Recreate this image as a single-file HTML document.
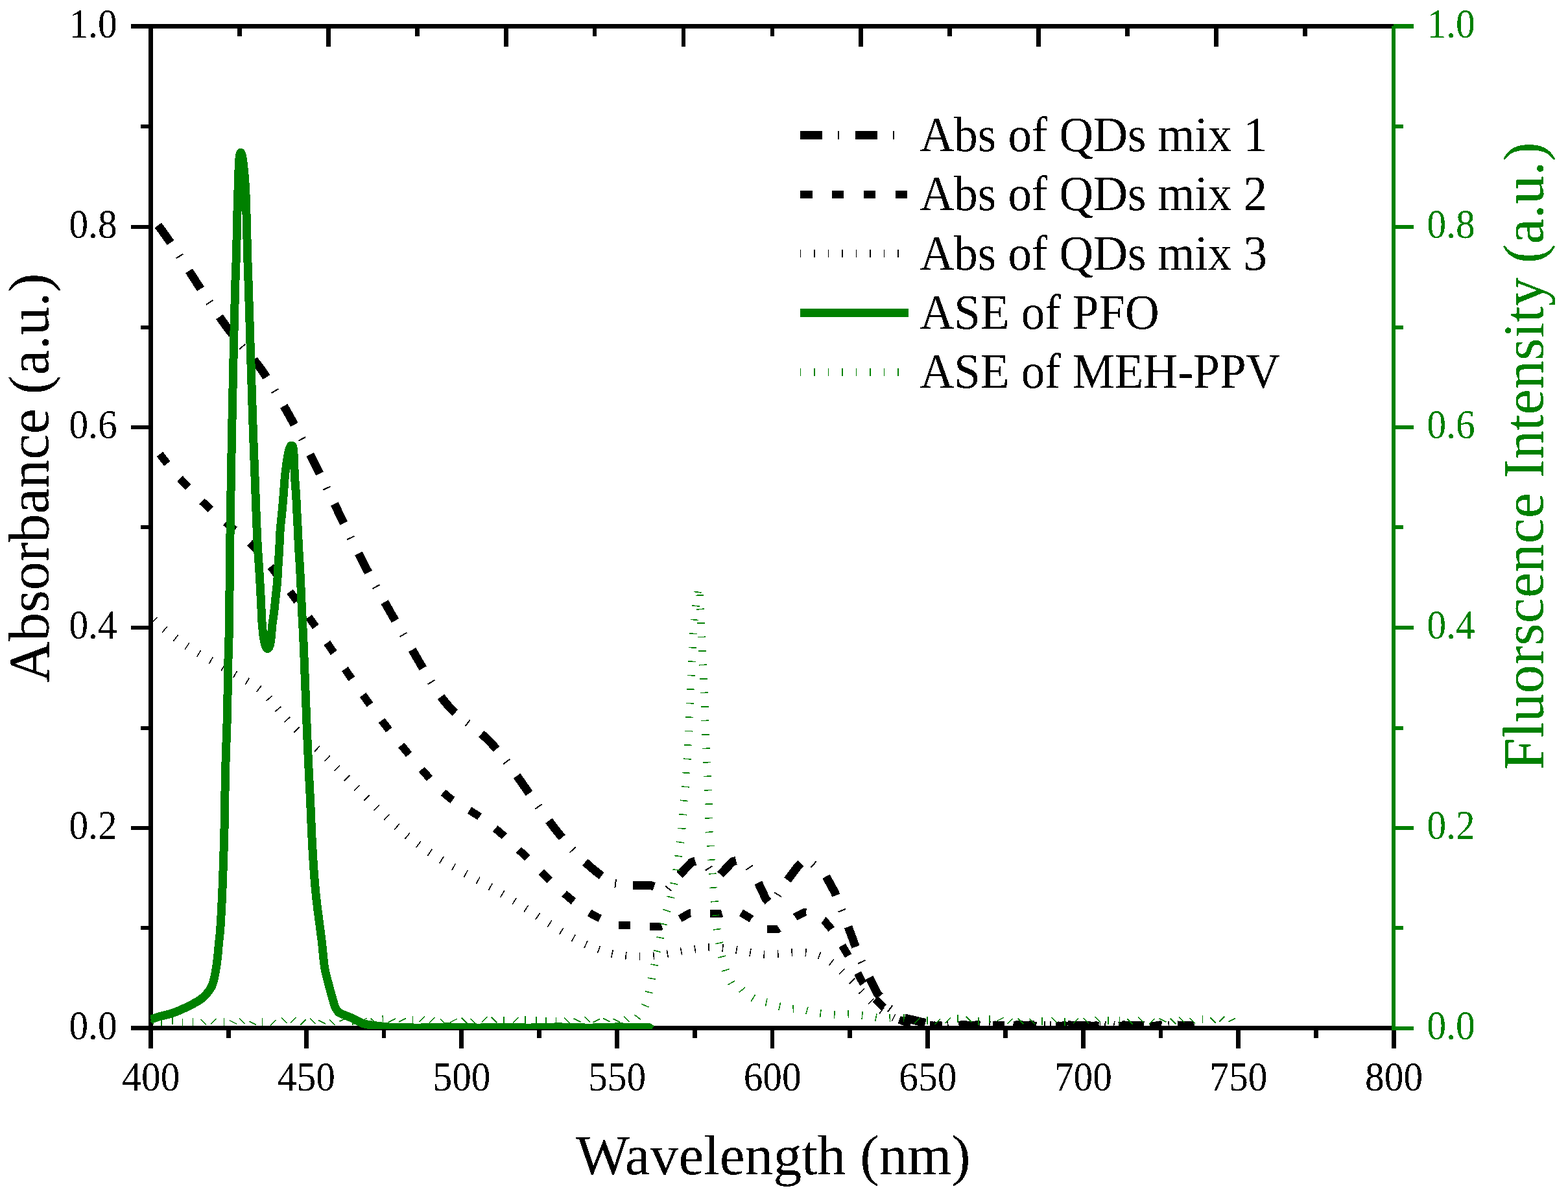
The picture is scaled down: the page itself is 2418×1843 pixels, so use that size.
<!DOCTYPE html>
<html><head><meta charset="utf-8"><title>Absorbance and ASE spectra</title>
<style>
html,body{margin:0;padding:0;background:#fff;}
body{width:2418px;height:1843px;overflow:hidden;}
svg{display:block;}
</style></head>
<body>
<svg width="2418" height="1843" viewBox="0 0 2418 1843">
<defs><filter id="bin" color-interpolation-filters="sRGB"><feComponentTransfer><feFuncA type="discrete" tableValues="0 1"/></feComponentTransfer></filter>
<clipPath id="pc"><rect x="232" y="40" width="1918" height="1547"/></clipPath></defs>
<rect width="2418" height="1843" fill="#fff"/>
<g shape-rendering="crispEdges">
<rect x="229" y="37" width="7" height="1580" fill="#000"/>
<rect x="202" y="1582" width="1944" height="7" fill="#000"/>
<rect x="202" y="37" width="1947" height="7" fill="#000"/>
<rect x="2146" y="40" width="6" height="1549" fill="#008000"/>
<rect x="2149" y="37" width="31" height="7" fill="#008000"/>
<rect x="202" y="1583" width="27" height="6" fill="#000"/>
<rect x="217" y="1428" width="12" height="6" fill="#000"/>
<rect x="202" y="1274" width="27" height="6" fill="#000"/>
<rect x="217" y="1120" width="12" height="6" fill="#000"/>
<rect x="202" y="965" width="27" height="6" fill="#000"/>
<rect x="217" y="810" width="12" height="6" fill="#000"/>
<rect x="202" y="656" width="27" height="6" fill="#000"/>
<rect x="217" y="502" width="12" height="6" fill="#000"/>
<rect x="202" y="347" width="27" height="6" fill="#000"/>
<rect x="217" y="192" width="12" height="6" fill="#000"/>
<rect x="202" y="38" width="27" height="6" fill="#000"/>
<rect x="2152" y="1583" width="28" height="6" fill="#008000"/>
<rect x="2152" y="1428" width="12" height="6" fill="#008000"/>
<rect x="2152" y="1274" width="28" height="6" fill="#008000"/>
<rect x="2152" y="1120" width="12" height="6" fill="#008000"/>
<rect x="2152" y="965" width="28" height="6" fill="#008000"/>
<rect x="2152" y="810" width="12" height="6" fill="#008000"/>
<rect x="2152" y="656" width="28" height="6" fill="#008000"/>
<rect x="2152" y="502" width="12" height="6" fill="#008000"/>
<rect x="2152" y="347" width="28" height="6" fill="#008000"/>
<rect x="2152" y="192" width="12" height="6" fill="#008000"/>
<rect x="2152" y="38" width="28" height="6" fill="#008000"/>
<rect x="229.2" y="1589" width="6.7" height="28" fill="#000"/>
<rect x="349" y="1589" width="6.7" height="12" fill="#000"/>
<rect x="468.8" y="1589" width="6.7" height="28" fill="#000"/>
<rect x="588.6" y="1589" width="6.7" height="12" fill="#000"/>
<rect x="708.4" y="1589" width="6.7" height="28" fill="#000"/>
<rect x="828.2" y="1589" width="6.7" height="12" fill="#000"/>
<rect x="948" y="1589" width="6.7" height="28" fill="#000"/>
<rect x="1067.8" y="1589" width="6.7" height="12" fill="#000"/>
<rect x="1187.6" y="1589" width="6.7" height="28" fill="#000"/>
<rect x="1307.4" y="1589" width="6.7" height="12" fill="#000"/>
<rect x="1427.2" y="1589" width="6.7" height="28" fill="#000"/>
<rect x="1547" y="1589" width="6.7" height="12" fill="#000"/>
<rect x="1666.8" y="1589" width="6.7" height="28" fill="#000"/>
<rect x="1786.6" y="1589" width="6.7" height="12" fill="#000"/>
<rect x="1906.4" y="1589" width="6.7" height="28" fill="#000"/>
<rect x="2026.2" y="1589" width="6.7" height="12" fill="#000"/>
<rect x="2146" y="1589" width="6.7" height="28" fill="#000"/>
<rect x="366.01" y="44" width="6.8" height="12" fill="#000"/>
<rect x="502.93" y="44" width="6.8" height="28" fill="#000"/>
<rect x="639.84" y="44" width="6.8" height="12" fill="#000"/>
<rect x="776.76" y="44" width="6.8" height="28" fill="#000"/>
<rect x="913.67" y="44" width="6.8" height="12" fill="#000"/>
<rect x="1050.59" y="44" width="6.8" height="28" fill="#000"/>
<rect x="1187.5" y="44" width="6.8" height="12" fill="#000"/>
<rect x="1324.41" y="44" width="6.8" height="28" fill="#000"/>
<rect x="1461.33" y="44" width="6.8" height="12" fill="#000"/>
<rect x="1598.24" y="44" width="6.8" height="28" fill="#000"/>
<rect x="1735.16" y="44" width="6.8" height="12" fill="#000"/>
<rect x="1872.07" y="44" width="6.8" height="28" fill="#000"/>
<rect x="2008.99" y="44" width="6.8" height="12" fill="#000"/>
</g>
<g fill="none" stroke-linejoin="round" shape-rendering="crispEdges" clip-path="url(#pc)">
<path d="M243.75 347.51L245.75 350.16L247.75 352.85L249.75 355.58L251.75 358.33L253.75 361.12L255.75 363.93L257.76 366.78L259.76 369.65L261.76 372.54L263.76 375.46L265.76 378.4L267.76 381.36L269.76 384.35L271.76 387.35L273.76 390.36L275.76 393.4L277.76 396.45L279.76 399.51L281.76 402.58L283.76 405.66L285.77 408.75L287.77 411.85L289.77 414.96L291.77 418.06L293.77 421.18L295.77 424.29L297.77 427.41L299.77 430.52L301.77 433.63L303.77 436.74L305.77 439.85L307.77 442.94L309.77 446.03L311.77 449.11L313.78 452.18L315.78 455.24L317.78 458.29L319.78 461.32L321.78 464.33L323.78 467.33L325.78 470.31L327.78 473.27L329.78 476.22L331.78 479.14L333.78 482.04L335.78 484.92L337.78 487.78L339.78 490.61L341.79 493.42L343.79 496.21L345.79 498.97L347.79 501.71L349.79 504.42L351.79 507.11L353.79 509.77L355.79 512.4L357.79 515L359.79 517.57L361.79 520.11L363.79 522.62L365.79 525.11L367.8 527.55L369.8 529.97L371.8 532.35L373.8 534.7L375.8 537.02L377.8 539.32L379.8 541.6L381.8 543.88L383.8 546.17L385.8 548.46L387.8 550.77L389.8 553.12L391.8 555.5L393.8 557.93L395.81 560.41L397.81 562.95L399.81 565.56L401.81 568.26L403.81 571.04L405.81 573.91L407.81 576.86L409.81 579.87L411.81 582.96L413.81 586.1L415.81 589.29L417.81 592.52L419.81 595.78L421.81 599.07L423.82 602.39L425.82 605.73L427.82 609.09L429.82 612.48L431.82 615.89L433.82 619.32L435.82 622.77L437.82 626.25L439.82 629.75L441.82 633.27L443.82 636.81L445.82 640.38L447.82 643.96L449.83 647.57L451.83 651.2L453.83 654.85L455.83 658.52L457.83 662.21L459.83 665.92L461.83 669.65L463.83 673.4L465.83 677.17L467.83 680.96L469.83 684.77L471.83 688.6L473.83 692.45L475.83 696.31L477.84 700.2L479.84 704.1L481.84 708.02L483.84 711.96L485.84 715.92L487.84 719.9L489.84 723.89L491.84 727.9L493.84 731.93L495.84 735.97L497.84 740.03L499.84 744.11L501.84 748.2L503.84 752.31L505.85 756.44L507.85 760.57L509.85 764.72L511.85 768.88L513.85 773.05L515.85 777.22L517.85 781.4L519.85 785.58L521.85 789.76L523.85 793.94L525.85 798.12L527.85 802.3L529.85 806.47L531.85 810.64L533.86 814.79L535.86 818.94L537.86 823.07L539.86 827.19L541.86 831.3L543.86 835.39L545.86 839.46L547.86 843.5L549.86 847.53L551.86 851.54L553.86 855.51L555.86 859.47L557.86 863.39L559.87 867.28L561.87 871.15L563.87 874.99L565.87 878.81L567.87 882.6L569.87 886.36L571.87 890.1L573.87 893.82L575.87 897.52L577.87 901.19L579.87 904.85L581.87 908.49L583.87 912.11L585.87 915.71L587.88 919.29L589.88 922.86L591.88 926.42L593.88 929.96L595.88 933.48L597.88 937L599.88 940.5L601.88 944L603.88 947.48L605.88 950.95L607.88 954.42L609.88 957.88L611.88 961.33L613.88 964.78L615.89 968.22L617.89 971.66L619.89 975.09L621.89 978.52L623.89 981.96L625.89 985.39L627.89 988.82L629.89 992.25L631.89 995.69L633.89 999.13L635.89 1002.57L637.89 1006.02L639.89 1009.47L641.9 1012.93L643.9 1016.39L645.9 1019.85L647.9 1023.3L649.9 1026.74L651.9 1030.16L653.9 1033.57L655.9 1036.96L657.9 1040.31L659.9 1043.64L661.9 1046.93L663.9 1050.18L665.9 1053.39L667.9 1056.55L669.91 1059.66L671.91 1062.71L673.91 1065.7L675.91 1068.63L677.91 1071.48L679.91 1074.27L681.91 1076.98L683.91 1079.6L685.91 1082.14L687.91 1084.6L689.91 1086.95L691.91 1089.22L693.91 1091.41L695.91 1093.51L697.92 1095.54L699.92 1097.49L701.92 1099.39L703.92 1101.22L705.92 1103L707.92 1104.73L709.92 1106.41L711.92 1108.06L713.92 1109.67L715.92 1111.25L717.92 1112.81L719.92 1114.35L721.92 1115.87L723.92 1117.39L725.93 1118.9L727.93 1120.42L729.93 1121.94L731.93 1123.47L733.93 1125.02L735.93 1126.59L737.93 1128.19L739.93 1129.82L741.93 1131.49L743.93 1133.2L745.93 1134.95L747.93 1136.76L749.93 1138.63L751.94 1140.56L753.94 1142.55L755.94 1144.6L757.94 1146.72L759.94 1148.88L761.94 1151.11L763.94 1153.38L765.94 1155.7L767.94 1158.07L769.94 1160.49L771.94 1162.95L773.94 1165.45L775.94 1167.98L777.94 1170.56L779.95 1173.17L781.95 1175.81L783.95 1178.47L785.95 1181.17L787.95 1183.89L789.95 1186.64L791.95 1189.4L793.95 1192.19L795.95 1194.99L797.95 1197.8L799.95 1200.62L801.95 1203.46L803.95 1206.3L805.95 1209.15L807.96 1212L809.96 1214.86L811.96 1217.71L813.96 1220.57L815.96 1223.43L817.96 1226.28L819.96 1229.13L821.96 1231.98L823.96 1234.82L825.96 1237.65L827.96 1240.47L829.96 1243.28L831.96 1246.08L833.97 1248.87L835.97 1251.65L837.97 1254.41L839.97 1257.15L841.97 1259.87L843.97 1262.58L845.97 1265.26L847.97 1267.92L849.97 1270.56L851.97 1273.18L853.97 1275.77L855.97 1278.33L857.97 1280.86L859.97 1283.37L861.98 1285.85L863.98 1288.3L865.98 1290.72L867.98 1293.12L869.98 1295.49L871.98 1297.82L873.98 1300.13L875.98 1302.42L877.98 1304.67L879.98 1306.89L881.98 1309.08L883.98 1311.24L885.98 1313.37L887.98 1315.48L889.99 1317.55L891.99 1319.59L893.99 1321.59L895.99 1323.57L897.99 1325.52L899.99 1327.43L901.99 1329.31L903.99 1331.16L905.99 1332.98L907.99 1334.77L909.99 1336.52L911.99 1338.24L913.99 1339.92L915.99 1341.57L918 1343.19L920 1344.78L922 1346.33L924 1347.84L926 1349.32L928 1350.77L930 1352.18L944 1361.9L969.3 1365L1002.1 1365L1027.9 1373.9L1042.5 1355.1L1066.3 1329.9L1076 1327L1091.5 1336.8L1100 1350L1106.2 1353.7L1129.6 1328.9L1141 1326L1155.2 1337.8L1167 1356.4L1181 1386.4L1188.5 1395L1195.6 1386.8L1208.9 1364.6L1230 1336.4L1241 1325L1249.4 1328.3L1271.7 1347.6L1286.8 1375.2L1296.5 1399.4L1305.8 1423.2L1317 1453.7L1326.5 1478.2L1337.2 1501.4L1352.7 1531.9L1370.4 1553.9L1389.4 1568.6L1417.8 1575.4L1440 1580L1444.8 1580.71L1449.6 1581.86L1454.4 1581.72L1459.2 1580.91L1464 1581.29L1468.8 1581.22L1473.6 1581.54L1478.4 1581.76L1483.2 1580.65L1488 1580.55L1492.8 1581.84L1497.6 1581.19L1502.4 1581.72L1507.2 1580.5L1512 1581.21L1516.8 1581.65L1521.6 1580.87L1526.4 1582.01L1531.2 1581.94L1536 1580.55L1540.8 1580.54L1545.6 1581.37L1550.4 1582L1555.2 1581.11L1560 1580.85L1564.8 1581.18L1569.6 1580.55L1574.4 1580.85L1579.2 1581.2L1584 1581.29L1588.8 1580.87L1593.6 1580.87L1598.4 1580.85L1603.2 1581.24L1608 1580.96L1612.8 1580.53L1617.6 1581.84L1622.4 1581.39L1627.2 1581.53L1632 1580.8L1636.8 1582.09L1641.6 1581.88L1646.4 1580.69L1651.2 1581.03L1656 1581.65L1660.8 1581.64L1665.6 1582L1670.4 1581.18L1675.2 1581.83L1680 1581.57L1684.8 1580.99L1689.6 1581.44L1694.4 1581.91L1699.2 1581.85L1704 1581.31L1708.8 1581.44L1713.6 1580.56L1718.4 1580.89L1723.2 1581.78L1728 1581.16L1732.8 1580.78L1737.6 1581.38L1742.4 1581.62L1747.2 1581.58L1752 1581.1L1756.8 1581.2L1761.6 1581.31L1766.4 1581.75L1771.2 1581.33L1776 1581.13L1780.8 1581.28L1785.6 1580.55L1790.4 1580.57L1795.2 1581.63L1800 1582.07L1804.8 1581.45L1809.6 1581.13L1814.4 1580.77L1819.2 1581.3L1824 1582.07L1828.8 1581.73L1833.6 1581.36L1838.4 1581.88L1842 1580.87" stroke="#000" stroke-width="13" stroke-dasharray="33 52"/>
<path d="M282.1 391.67L271.65 398.53M328.35 462.93L317.96 469.87M378.5 530.59L368.99 538.7M429.47 599.67L418.75 606.09M471.25 674.05L460.21 679.91M509.72 750.1L498.47 755.55M546.56 826.68L535.33 832.16M585.4 901.93L574.45 907.96M627.44 975.63L616.64 981.93M670.38 1048.76L659.78 1055.38M724.85 1110.24L717.27 1120.18M786.13 1170.99L776.17 1178.54M835.55 1240.36L825.38 1247.62M887.88 1306.26L878.71 1314.75M949.96 1356.33L948.44 1368.74M1025.82 1366.39L1035.69 1374.05M1098.23 1335.71L1087.72 1342.48M1160.74 1334.86L1150.18 1341.56M1194.4 1376.64L1205.12 1383.07M1258.88 1328.24L1250.7 1337.69M1304.18 1401.88L1292.54 1406.43M1334.6 1480.84L1323.25 1486.07M1376.43 1550.66L1368.78 1560.55M1451.53 1575.55L1451.88 1588.04M1533.88 1574.66L1537.37 1586.66M1619.5 1575.38L1620.67 1587.83M1704.58 1575.07L1704.23 1587.57M1789.03 1574.31L1788.97 1586.81" stroke="#000" stroke-width="2"/>
<path d="M246.4 700.41L248.4 702.99L250.4 705.55L252.41 708.09L254.41 710.6L256.41 713.08L258.41 715.54L260.41 717.98L262.41 720.4L264.42 722.79L266.42 725.16L268.42 727.51L270.42 729.83L272.42 732.13L274.42 734.41L276.43 736.67L278.43 738.91L280.43 741.13L282.43 743.33L284.43 745.51L286.43 747.66L288.44 749.8L290.44 751.92L292.44 754.02L294.44 756.1L296.44 758.16L298.45 760.2L300.45 762.22L302.45 764.23L304.45 766.22L306.45 768.19L308.45 770.15L310.46 772.08L312.46 774.01L314.46 775.91L316.46 777.8L318.46 779.67L320.46 781.53L322.47 783.38L324.47 785.2L326.47 787.02L328.47 788.82L330.47 790.61L332.48 792.38L334.48 794.14L336.48 795.89L338.48 797.62L340.48 799.34L342.48 801.06L344.49 802.76L346.49 804.45L348.49 806.12L350.49 807.79L352.49 809.45L354.49 811.1L356.5 812.74L358.5 814.37L360.5 816L362.5 817.63L364.5 819.27L366.5 820.91L368.51 822.56L370.51 824.23L372.51 825.92L374.51 827.63L376.51 829.36L378.52 831.13L380.52 832.92L382.52 834.76L384.52 836.63L386.52 838.55L388.52 840.51L390.53 842.52L392.53 844.59L394.53 846.71L396.53 848.89L398.53 851.12L400.53 853.39L402.54 855.7L404.54 858.06L406.54 860.45L408.54 862.87L410.54 865.32L412.54 867.8L414.55 870.3L416.55 872.82L418.55 875.35L420.55 877.89L422.55 880.44L424.56 883L426.56 885.57L428.56 888.15L430.56 890.74L432.56 893.33L434.56 895.93L436.57 898.54L438.57 901.16L440.57 903.78L442.57 906.42L444.57 909.06L446.57 911.71L448.58 914.37L450.58 917.03L452.58 919.7L454.58 922.39L456.58 925.08L458.58 927.77L460.59 930.48L462.59 933.19L464.59 935.91L466.59 938.64L468.59 941.38L470.6 944.12L472.6 946.87L474.6 949.63L476.6 952.4L478.6 955.18L480.6 957.96L482.61 960.75L484.61 963.55L486.61 966.35L488.61 969.17L490.61 971.99L492.61 974.82L494.62 977.65L496.62 980.5L498.62 983.35L500.62 986.21L502.62 989.07L504.62 991.95L506.63 994.83L508.63 997.72L510.63 1000.61L512.63 1003.52L514.63 1006.43L516.64 1009.34L518.64 1012.26L520.64 1015.18L522.64 1018.11L524.64 1021.03L526.64 1023.96L528.65 1026.89L530.65 1029.82L532.65 1032.74L534.65 1035.67L536.65 1038.59L538.65 1041.51L540.66 1044.42L542.66 1047.33L544.66 1050.23L546.66 1053.13L548.66 1056.01L550.67 1058.89L552.67 1061.76L554.67 1064.62L556.67 1067.47L558.67 1070.31L560.67 1073.13L562.68 1075.94L564.68 1078.74L566.68 1081.52L568.68 1084.29L570.68 1087.05L572.68 1089.79L574.69 1092.51L576.69 1095.22L578.69 1097.92L580.69 1100.61L582.69 1103.28L584.69 1105.94L586.7 1108.58L588.7 1111.22L590.7 1113.84L592.7 1116.44L594.7 1119.04L596.71 1121.62L598.71 1124.19L600.71 1126.75L602.71 1129.29L604.71 1131.83L606.71 1134.35L608.72 1136.86L610.72 1139.36L612.72 1141.85L614.72 1144.33L616.72 1146.79L618.72 1149.25L620.73 1151.69L622.73 1154.13L624.73 1156.55L626.73 1158.97L628.73 1161.37L630.73 1163.77L632.74 1166.15L634.74 1168.52L636.74 1170.89L638.74 1173.24L640.74 1175.59L642.75 1177.93L644.75 1180.26L646.75 1182.58L648.75 1184.89L650.75 1187.19L652.75 1189.49L654.76 1191.77L656.76 1194.05L658.76 1196.32L660.76 1198.57L662.76 1200.81L664.76 1203.03L666.77 1205.22L668.77 1207.39L670.77 1209.52L672.77 1211.62L674.77 1213.69L676.77 1215.71L678.78 1217.69L680.78 1219.62L682.78 1221.5L684.78 1223.32L686.78 1225.09L688.79 1226.8L690.79 1228.44L692.79 1230.01L694.79 1231.53L696.79 1232.99L698.79 1234.4L700.8 1235.76L702.8 1237.09L704.8 1238.37L706.8 1239.63L708.8 1240.85L710.8 1242.06L712.81 1243.25L714.81 1244.42L716.81 1245.59L718.81 1246.75L720.81 1247.91L722.82 1249.08L724.82 1250.26L726.82 1251.45L728.82 1252.66L730.82 1253.9L732.82 1255.16L734.83 1256.45L736.83 1257.77L738.83 1259.11L740.83 1260.48L742.83 1261.87L744.83 1263.28L746.84 1264.72L748.84 1266.19L750.84 1267.67L752.84 1269.19L754.84 1270.72L756.84 1272.28L758.85 1273.86L760.85 1275.46L762.85 1277.09L764.85 1278.73L766.85 1280.4L768.86 1282.09L770.86 1283.8L772.86 1285.53L774.86 1287.28L776.86 1289.05L778.86 1290.83L780.87 1292.64L782.87 1294.46L784.87 1296.29L786.87 1298.15L788.87 1300.01L790.87 1301.89L792.88 1303.78L794.88 1305.68L796.88 1307.59L798.88 1309.52L800.88 1311.45L802.88 1313.39L804.89 1315.34L806.89 1317.29L808.89 1319.26L810.89 1321.22L812.89 1323.2L814.9 1325.17L816.9 1327.15L818.9 1329.13L820.9 1331.11L822.9 1333.09L824.9 1335.08L826.91 1337.06L828.91 1339.04L830.91 1341.01L832.91 1342.99L834.91 1344.96L836.91 1346.92L838.92 1348.88L840.92 1350.83L842.92 1352.78L844.92 1354.71L846.92 1356.64L848.92 1358.56L850.93 1360.47L852.93 1362.36L854.93 1364.25L856.93 1366.12L858.93 1367.98L860.94 1369.82L862.94 1371.65L864.94 1373.46L866.94 1375.26L868.94 1377.03L870.94 1378.79L872.95 1380.53L874.95 1382.25L876.95 1383.95L878.95 1385.63L880.95 1387.28L882.95 1388.92L884.96 1390.52L886.96 1392.11L888.96 1393.67L890.96 1395.2L892.96 1396.7L894.97 1398.18L896.97 1399.63L898.97 1401.04L900.97 1402.43L902.97 1403.79L904.97 1405.11L906.98 1406.41L908.98 1407.67L910.98 1408.89L912.98 1410.08L914.98 1411.23L916.98 1412.35L918.99 1413.43L920.99 1414.47L922.99 1415.48L924.99 1416.44L926.99 1417.36L928.99 1418.24L931 1419.08L933 1419.88L935 1420.63L951.2 1427L969.6 1427L998.8 1429.2L1017.9 1429.2L1032 1424.5L1047.6 1417.4L1063.6 1408.2L1078 1408.5L1092.3 1409.3L1110.7 1409.3L1126 1405L1141.6 1406.8L1158.6 1417.1L1170 1428L1180.3 1433.4L1198.7 1433.4L1213 1424L1227.6 1413.3L1241.9 1406.5L1257 1410L1271.1 1419.9L1282 1432.7L1290 1445L1298.6 1458.2L1307.8 1473.6L1315 1487L1322.8 1501.2L1330.7 1516.2L1341 1531L1351.4 1542.7L1363.8 1555.1L1385 1572L1403 1579L1435 1580.5L1439.8 1582.03L1444.6 1582.02L1449.4 1580.59L1454.2 1580.64L1459 1581.84L1463.8 1581.68L1468.6 1581.57L1473.4 1580.99L1478.2 1581.47L1483 1581.47L1487.8 1581.43L1492.6 1580.75L1497.4 1581.19L1502.2 1581.13L1507 1581.66L1511.8 1582.09L1516.6 1582.02L1521.4 1581.37L1526.2 1581.21L1531 1580.93L1535.8 1580.56L1540.6 1580.54L1545.4 1581.24L1550.2 1581.01L1555 1581.11L1559.8 1581.93L1564.6 1581.34L1569.4 1581.4L1574.2 1580.88L1579 1580.54L1583.8 1581.02L1588.6 1580.72L1593.4 1581.32L1598.2 1582.1L1603 1581.58L1607.8 1580.79L1612.6 1581.93L1617.4 1581.77L1622.2 1581.68L1627 1581.95L1631.8 1581.72L1636.6 1581.76L1641.4 1581.07L1646.2 1582.07L1651 1582.04L1655.8 1580.76L1660.6 1581.71L1665.4 1581.64L1670.2 1581.24L1675 1581.35L1679.8 1581.28L1684.6 1581.98L1689.4 1581.3L1694.2 1581.83L1699 1581.07L1703.8 1581.91L1708.6 1581.94L1713.4 1581.24L1718.2 1581.41L1723 1581.97L1727.8 1581.66L1732.6 1581.28L1737.4 1580.85L1742.2 1581.02L1747 1581.62L1751.8 1580.77L1756.6 1581.95L1761.4 1580.93L1766.2 1581.96L1771 1581L1775.8 1582.03L1780.6 1581.63L1785.4 1581.31L1790.2 1581.33L1795 1581.54L1799.8 1581.44L1804.6 1581L1809.4 1580.83L1814.2 1581.32L1819 1581.99L1823.8 1581.5L1828.6 1580.62L1833.4 1581.81L1838.2 1581.66L1842 1581.95" stroke="#000" stroke-width="12" stroke-dasharray="18.5 30.3"/>
<path d="M242.21 952.06L233.95 960.77M257.95 966.17L250.23 975.35M274.52 979.33L267.33 988.93M291.82 991.54L285.15 1001.52M309.74 1002.95L303.5 1013.2M328.14 1013.75L322.19 1024.17M346.83 1024.22L341.01 1034.71M365.65 1034.7L359.76 1045.15M384.39 1045.51L378.26 1055.83M402.86 1057.74L395.62 1067.31M419.44 1073.07L410.56 1081.15M433.42 1089.76L424.19 1097.43M447.35 1105.78L438.47 1113.85M461.99 1121.15L453.49 1129.62M477.26 1136.05L468.99 1144.74M492.9 1150.69L484.74 1159.49M508.66 1165.4L500.41 1174.12M524.22 1180.41L515.81 1188.96M539.51 1195.6L531.01 1204.08M554.67 1210.89L546.13 1219.33M569.79 1226.15L561.28 1234.61M584.98 1241.27L576.57 1249.82M600.36 1256.13L592.11 1264.84M616.03 1270.58L608.05 1279.54M632.15 1284.45L624.53 1293.72M648.85 1297.51L641.69 1307.14M666.19 1309.7L659.53 1319.67M684.12 1321.12L677.86 1331.36M702.49 1331.92L696.56 1342.34M721.19 1342.28L715.46 1352.83M740.09 1352.48L734.41 1363.04M759.04 1362.77L753.25 1373.27M777.88 1373.41L771.85 1383.78M796.45 1384.6L790.11 1394.79M814.67 1396.22L808.14 1406.29M832.69 1407.97L826.13 1418.02M850.7 1419.62L844.24 1429.73M868.83 1430.89L862.62 1441.16M887.22 1441.48L881.49 1452.03M906.07 1451.05L900.98 1461.91M925.43 1459.05L921.34 1470.34M945.31 1464.89L942.69 1476.6M965.84 1468.3L964.56 1480.23M986.63 1469.32L986.7 1481.32M1007.51 1468.2L1008.74 1480.14M1028.39 1465.27L1030.43 1477.09M1049.43 1461.34L1051.66 1473.13M1070.84 1457.63L1072.62 1469.5M1092.85 1455.45L1093.37 1467.44M1115.21 1456.18L1113.96 1468.11M1136.88 1459.36L1134.82 1471.18M1157.99 1463.09L1156.05 1474.93M1178.71 1465.58L1178.01 1477.56M1199.37 1465.25L1200.31 1477.21M1220.72 1463.18L1221.75 1475.13M1243.18 1462.79L1242.23 1474.75M1265.75 1467.78L1261.5 1479M1285.83 1479.34L1278.53 1488.87M1302.59 1493.77L1294.33 1502.48M1318.07 1508.96L1309.55 1517.41M1333.05 1524.77L1324.14 1532.81M1347.49 1540.2L1339.09 1548.77M1363.21 1553.61L1356.05 1563.24M1380.65 1564.23L1375.28 1574.96M1399.52 1571.12L1396.73 1582.79M1419.59 1573.86L1419.18 1585.86M1440.78 1575.48L1440.69 1587.48M1460.77 1575.27L1463.04 1587.06M1482.4 1575.79L1483.83 1587.71M1504.91 1575.76L1503.98 1587.72M1527.15 1574.8L1524.44 1586.49M1548.65 1575.39L1545.43 1586.95M1568.04 1575.68L1568.7 1587.66M1590.66 1575.57L1588.72 1587.41M1611.14 1574.82L1610.82 1586.82M1632.63 1575.07L1631.81 1587.04M1653.69 1575.44L1653.69 1587.44M1675.4 1575.91L1674.86 1587.9M1696.61 1575.98L1696.2 1587.97M1719.01 1575L1716.58 1586.75M1740.6 1575.4L1737.54 1587M1759.32 1575.3L1760.87 1587.2M1779.85 1575.71L1783.05 1587.28M1801.74 1575.27L1803.27 1587.17M1822.43 1576.12L1825.11 1587.81" stroke="#000" stroke-width="1.6"/>
<path d="M228.82 1571.19L237.31 1579.68M248.85 1570L248.85 1582M265.89 1567.6L265.89 1579.6M281.44 1571.2L281.44 1583.2M297.49 1570L297.49 1582M309.46 1572.16L317.94 1580.64M333.16 1570.98L324.68 1579.46M345.63 1570L345.63 1582M354.11 1573.76L364.85 1579.12M368.92 1570.3L377.4 1578.78M384.6 1575.19L395.33 1580.55M404.36 1570L404.36 1582M425.46 1573.26L417.02 1581.8M434.27 1569.54L442.8 1577.97M456.56 1569.2L448.12 1577.74M471.79 1572.26L463.35 1580.79M478.16 1570.74L486.69 1579.17M491.18 1573.54L501.93 1578.88M508.24 1572.71L516.77 1581.15M534.38 1569.89L523.66 1575.28M544.17 1568.57L544.31 1580.57M565.98 1570.32L555.26 1575.71M571.87 1570.75L580.4 1579.19M590.28 1565.64L590.42 1577.64M609.83 1571.12L599.11 1576.51M625.85 1570.59L615.12 1575.95M636.51 1566.5L636.51 1578.5M655.03 1567.75L646.55 1576.23M670.59 1568.91L662.11 1577.39M678.72 1571.39L687.21 1579.88M704.84 1571.36L694.11 1576.73M711.59 1569.72L720.08 1578.21M725.75 1571.16L734.24 1579.65M751.55 1568.26L743.06 1576.75M757.93 1568.99L766.41 1577.47M776.92 1567.7L776.92 1579.7M799.29 1569.21L790.81 1577.69M810 1566.5L810 1578.5M827.03 1567.7L827.03 1579.7M842.08 1568.9L842.08 1580.9M857.63 1568.9L857.63 1580.9M870.03 1569.69L878.51 1578.17M884.78 1570.92L895.52 1576.28M901.5 1568.22L909.98 1576.7M925.12 1571.53L914.39 1576.9M929.97 1570.55L940.7 1575.91M945.32 1571.04L956.05 1576.41M962 1567.72L970.48 1576.2M978.71 1565.19L988.17 1572.57M989.38 1548.51L1000.41 1553.25M995 1528.97L1006.7 1531.64M999.21 1508.12L1011 1510.35M1003.49 1486.95L1015.24 1489.37M1007.66 1465.56L1019.28 1468.55M1012.48 1444.96L1024.25 1447.3M1017.3 1423.86L1029.01 1426.49M1022.51 1402.36L1033.87 1406.22M1028.44 1382.33L1040.13 1385.06M1033.21 1361.42L1044.92 1364.05M1037.48 1340.87L1049.37 1342.5M1040.4 1319.62L1052.3 1321.15M1043.15 1298.23L1055.03 1299.89M1045.51 1277.32L1057.49 1278.1M1047.08 1255.75L1059.03 1256.78M1049.04 1234.26L1060.98 1235.46M1050.93 1213.03L1062.9 1213.85M1052.37 1191.6L1064.35 1192.38M1053.77 1170.15L1065.75 1170.93M1055.11 1148.74L1067.09 1149.41M1056.07 1127.46L1068.07 1127.74M1056.88 1105.73L1068.86 1106.51M1058.22 1084.33L1070.2 1085M1059.17 1063.05L1071.17 1063.33M1059.8 1041.45L1071.79 1041.95M1060.98 1019.76L1072.94 1020.7M1062.33 998.59L1074.32 998.98M1063.2 976.96L1075.18 977.64M1064.72 955.27L1076.66 956.44M1066.82 933.87L1078.76 935.05M1069.7 912.29L1081.58 914.01M1084.72 917.74L1072.74 918.41M1085.96 939.09L1074 939.98M1087.47 960.78L1075.48 961.18M1088.19 982.25L1076.19 982.69M1088.98 1003.7L1076.99 1004.21M1089.91 1025.1L1077.93 1025.77M1091.07 1046.71L1079.07 1047.1M1091.81 1068.05L1079.83 1068.72M1092.95 1089.72L1080.95 1090M1093.48 1111.1L1081.49 1111.6M1094.35 1132.69L1082.35 1132.97M1094.9 1154.05L1082.91 1154.6M1095.88 1175.55L1083.89 1176.06M1096.76 1197.09L1084.77 1197.48M1097.53 1218.35L1085.56 1219.19M1098.94 1240.11L1086.94 1240.33M1099.35 1261.55L1087.36 1261.89M1100.05 1282.63L1088.11 1283.77M1101.74 1304.33L1089.75 1304.94M1103.03 1325.65L1091.06 1326.54M1104.55 1347.15L1092.58 1347.93M1106.03 1368.54L1094.06 1369.43M1107.59 1390.01L1095.62 1390.85M1109.48 1411.17L1097.56 1412.5M1111.91 1432.51L1099.99 1433.89M1115.23 1453.12L1103.51 1455.68M1119.1 1474.11L1107.44 1476.96M1124.6 1494.57L1113.1 1498.01M1133.08 1512.84L1122.61 1518.71M1148.98 1523.05L1139.55 1530.47M1164.44 1534.41L1158.1 1544.6M1182.97 1540L1180.44 1551.72M1203.61 1546.34L1200.87 1558.03M1223.05 1549.81L1223.53 1561.8M1246.03 1552.98L1242.55 1564.47M1266.08 1557.13L1264.58 1569.03M1286.99 1558.78L1286.51 1570.77M1308.08 1558.41L1308.4 1570.4M1330.15 1559.68L1329.22 1571.64M1351.94 1563.46L1349.77 1575.26M1372.12 1563.78L1372.42 1575.77M1393.9 1563.93L1393.63 1575.92M1418.3 1570.12L1409.82 1578.6M1429.97 1567.5L1429.97 1579.5M1449.78 1571.6L1441.3 1580.08M1465.7 1569.51L1457.21 1578M1477.11 1565.1L1477.11 1577.1M1489.74 1567.68L1498.22 1576.16M1509.18 1568.7L1509.18 1580.7M1526.22 1566.3L1526.22 1578.3M1547.48 1569.45L1536.75 1574.81M1561.87 1570.89L1553.39 1579.37M1569.65 1570.57L1578.13 1579.05M1587.31 1570.9L1595.8 1579.39M1606.92 1568.7L1606.92 1580.7M1621.6 1569.02L1630.08 1577.5M1641.98 1569.9L1641.98 1581.9M1663.3 1570.32L1654.82 1578.8M1670.73 1570.28L1679.22 1578.77M1688.39 1568.22L1696.88 1576.71M1709.1 1567.5L1709.1 1579.5M1726.63 1567.5L1726.63 1579.5M1738.23 1571.18L1746.72 1579.67M1755.2 1568.62L1763.68 1577.1M1780.3 1570.91L1771.81 1579.4M1787.64 1570.8L1798.38 1576.16M1804.69 1570.72L1813.18 1579.21M1817.8 1568.41L1826.29 1576.9M1834.42 1569.8L1842.9 1578.28M1854.48 1566.3L1854.48 1578.3M1866.24 1569.17L1874.73 1577.66M1888.54 1567.55L1880.05 1576.04M1904.98 1570.45L1894.25 1575.81" stroke="#008000" stroke-width="1.6"/>
<path d="M232.5 1572.3L233.83 1571.83L235.66 1571.16L237.83 1570.38L240.2 1569.55L242.64 1568.73L245 1568L247.33 1567.37L249.75 1566.78L252.23 1566.21L254.75 1565.63L257.28 1565L259.8 1564.3L262.32 1563.52L264.86 1562.7L267.42 1561.83L269.97 1560.92L272.5 1559.98L275 1559L277.5 1557.96L280.03 1556.85L282.54 1555.71L284.99 1554.56L287.32 1553.45L289.5 1552.4L291.48 1551.44L293.3 1550.55L295.01 1549.69L296.66 1548.84L298.3 1547.95L300 1547L301.75 1546.02L303.5 1545.03L305.26 1544.01L307 1542.93L308.71 1541.77L310.4 1540.5L312.06 1539.15L313.71 1537.73L315.34 1536.24L316.93 1534.63L318.49 1532.9L320 1531L321.47 1529.07L322.92 1527.16L324.32 1525.12L325.68 1522.79L326.98 1520.04L328.2 1516.7L329.36 1512.65L330.46 1507.99L331.51 1502.9L332.48 1497.56L333.38 1492.17L334.2 1486.9L334.91 1481.66L335.53 1476.26L336.06 1470.81L336.55 1465.39L337.02 1460.09L337.5 1455L337.97 1450.52L338.4 1446.66L338.82 1442.92L339.23 1438.8L339.65 1433.8L340.1 1427.4L340.58 1419.67L341.07 1411.03L341.58 1401.51L342.09 1391.12L342.6 1379.91L343.1 1367.9L343.6 1354.74L344.12 1340.34L344.64 1325.11L345.13 1309.47L345.59 1293.83L346 1278.6L346.33 1263.72L346.58 1248.83L346.8 1233.95L347.02 1219.07L347.27 1204.18L347.6 1189.3L348.03 1174.19L348.54 1158.8L349.08 1143.41L349.62 1128.3L350.11 1113.74L350.5 1100L350.78 1087.19L350.98 1075.1L351.12 1063.56L351.26 1052.39L351.4 1041.43L351.6 1030.5L351.84 1020.99L352.11 1013.32L352.39 1005.86L352.68 996.96L352.99 984.98L353.3 968.3L353.62 945.9L353.93 918.89L354.26 888.81L354.61 857.19L354.99 825.57L355.4 795.5L355.85 766.71L356.33 737.93L356.83 709.15L357.36 680.37L357.92 651.59L358.5 622.8L359.14 592.71L359.84 561.07L360.56 529.42L361.27 499.32L361.93 472.33L362.5 450L362.97 433.18L363.39 420.79L363.74 411.51L364.06 404.01L364.34 396.95L364.6 389L364.81 380.56L364.97 372.78L365.1 365.44L365.21 358.33L365.34 351.26L365.5 344L365.69 336.54L365.91 329.04L366.13 321.56L366.36 314.19L366.58 306.97L366.8 300L367 293.13L367.2 286.3L367.39 279.62L367.58 273.26L367.78 267.34L368 262L368.22 257.2L368.44 252.81L368.67 248.88L368.91 245.41L369.19 242.44L369.5 240L369.85 238.08L370.24 236.67L370.66 235.75L371.09 235.33L371.54 235.42L372 236L372.47 236.99L372.94 238.37L373.44 240.25L373.94 242.74L374.47 245.95L375 250L375.57 255L376.19 260.89L376.82 267.5L377.43 274.67L378 282.22L378.5 290L378.92 298.29L379.28 307.3L379.6 316.69L379.89 326.15L380.15 335.36L380.4 344L380.62 352.03L380.81 359.7L380.97 367.12L381.13 374.41L381.3 381.66L381.5 389L381.73 396.36L381.97 403.63L382.23 410.88L382.49 418.15L382.75 425.5L383 433L383.21 439.35L383.37 444.26L383.53 449.25L383.74 455.85L384.05 465.59L384.5 480L385.15 500.88L385.96 527.37L386.88 557L387.81 587.3L388.71 615.79L389.5 640L390.17 659.59L390.77 676.48L391.33 691.56L391.87 705.74L392.42 719.92L393 735L393.62 751.41L394.25 768.52L394.89 785.62L395.53 802.04L396.13 817.06L396.7 830L397.23 840.62L397.75 849.44L398.24 856.88L398.7 863.33L399.12 869.24L399.5 875L399.83 880.31L400.1 884.78L400.34 888.69L400.56 892.33L400.77 896.01L401 900L401.24 904.28L401.48 908.59L401.72 912.94L401.95 917.3L402.18 921.66L402.4 926L402.62 930.48L402.83 935.13L403.03 939.78L403.23 944.26L403.42 948.39L403.6 952L403.75 954.92L403.88 957.24L404 959.22L404.13 961.09L404.29 963.11L404.5 965.5L404.76 968.37L405.05 971.54L405.37 974.84L405.72 978.13L406.1 981.23L406.5 984L406.94 986.46L407.41 988.76L407.91 990.88L408.43 992.8L408.96 994.51L409.5 996L410.05 997.31L410.63 998.46L411.22 999.41L411.81 1000.09L412.41 1000.47L413 1000.5L413.6 1000.14L414.22 999.43L414.84 998.41L415.44 997.13L416 995.64L416.5 994L416.93 992.11L417.31 989.91L417.65 987.5L417.96 984.98L418.24 982.45L418.5 980L418.72 977.6L418.9 975.17L419.05 972.72L419.2 970.28L419.38 967.86L419.6 965.5L419.89 963.19L420.21 960.91L420.57 958.66L420.93 956.43L421.28 954.21L421.6 952L421.89 949.8L422.17 947.63L422.44 945.47L422.7 943.31L422.96 941.16L423.2 939L423.42 936.99L423.6 935.18L423.77 933.36L423.96 931.36L424.19 928.97L424.5 926L424.9 922.34L425.39 918.11L425.93 913.5L426.46 908.69L426.97 903.86L427.4 899.2L427.75 894.67L428.06 890.11L428.32 885.54L428.58 880.96L428.83 876.37L429.1 871.8L429.39 867.23L429.68 862.67L429.97 858.1L430.26 853.53L430.53 848.97L430.8 844.4L431.04 839.83L431.24 835.27L431.44 830.7L431.65 826.13L431.89 821.57L432.2 817L432.58 812.43L433.01 807.87L433.49 803.3L433.97 798.73L434.45 794.17L434.9 789.6L435.32 785.03L435.73 780.47L436.14 775.9L436.53 771.33L436.92 766.77L437.3 762.2L437.66 757.58L437.99 752.9L438.32 748.21L438.65 743.59L439.01 739.1L439.4 734.8L439.83 730.67L440.3 726.64L440.78 722.75L441.28 719L441.79 715.41L442.3 712L442.81 708.72L443.33 705.56L443.86 702.56L444.4 699.77L444.95 697.23L445.5 695L446.07 693L446.64 691.18L447.23 689.61L447.82 688.38L448.41 687.55L449 687.2L449.6 687.09L450.22 687.13L450.84 687.56L451.44 688.67L452 690.73L452.5 694L452.92 698.99L453.28 705.58L453.59 713.11L453.89 720.93L454.18 728.38L454.5 734.8L454.84 740.14L455.19 744.93L455.54 749.34L455.88 753.56L456.2 757.79L456.5 762.2L456.77 766.77L457.01 771.33L457.24 775.9L457.46 780.47L457.67 785.03L457.9 789.6L458.13 794.17L458.37 798.73L458.61 803.3L458.84 807.87L459.07 812.43L459.3 817L459.52 821.57L459.73 826.13L459.93 830.7L460.14 835.27L460.36 839.83L460.6 844.4L460.86 848.97L461.15 853.53L461.44 858.1L461.74 862.67L462.03 867.23L462.3 871.8L462.55 876.21L462.77 880.44L462.99 884.66L463.21 889.07L463.45 893.86L463.7 899.2L463.97 905.18L464.25 911.65L464.54 918.5L464.85 925.59L465.17 932.8L465.5 940L465.86 947.36L466.26 955.02L466.67 962.8L467.07 970.51L467.46 977.97L467.8 985L468.08 991.1L468.31 996.33L468.52 1001.31L468.73 1006.67L468.98 1013.02L469.3 1021L469.69 1030.93L470.13 1042.37L470.61 1054.81L471.11 1067.74L471.61 1080.64L472.1 1093L472.57 1104.88L473.03 1116.7L473.5 1128.5L473.98 1140.3L474.48 1152.12L475 1164L475.56 1175.95L476.16 1187.96L476.78 1200L477.4 1212.04L478.02 1224.05L478.6 1236L479.13 1247.88L479.62 1259.7L480.09 1271.5L480.59 1283.3L481.15 1295.12L481.8 1307L482.52 1318.95L483.28 1330.96L484.09 1343L484.99 1355.04L485.98 1367.05L487.1 1379L488.43 1391.25L489.97 1403.89L491.61 1416.5L493.24 1428.67L494.74 1439.97L496 1450L496.96 1458.62L497.71 1466.15L498.34 1472.81L498.92 1478.85L499.54 1484.5L500.3 1490L501.18 1495.14L502.1 1499.7L503.07 1503.88L504.08 1507.85L505.12 1511.83L506.2 1516L507.37 1520.52L508.66 1525.26L509.97 1530L511.26 1534.52L512.42 1538.59L513.4 1542L514.13 1544.6L514.65 1546.56L515.06 1548.06L515.44 1549.33L515.89 1550.58L516.5 1552L517.25 1553.62L518.06 1555.26L518.94 1556.88L519.89 1558.41L520.91 1559.8L522 1561L523.17 1561.96L524.41 1562.7L525.72 1563.31L527.09 1563.85L528.52 1564.39L530 1565L531.55 1565.66L533.19 1566.3L534.88 1566.94L536.59 1567.59L538.31 1568.28L540 1569L541.67 1569.78L543.33 1570.61L545 1571.47L546.67 1572.33L548.33 1573.18L550 1574L551.67 1574.81L553.33 1575.63L555 1576.44L556.67 1577.2L558.33 1577.9L560 1578.5L561.61 1578.98L563.15 1579.35L564.69 1579.65L566.3 1579.92L568.04 1580.19L570 1580.5L572.21 1580.85L574.63 1581.22L577.19 1581.59L579.81 1581.95L582.44 1582.29L585 1582.6L587.67 1582.89L590.56 1583.17L593.44 1583.43L596.11 1583.66L598.37 1583.86L600 1584L620 1584.5L644 1585.19L668 1584.32L692 1583.85L716 1584.85L740 1585.06L764 1584.01L788 1584.07L812 1585.1L836 1584.78L860 1583.83L884 1584.4L908 1585.2L932 1584.42L956 1583.82L980 1584.75L1001 1584.5L1005 1587.5" stroke="#008000" stroke-width="13" stroke-linecap="butt"/>
</g>
<g font-family="'Liberation Serif','Times New Roman',serif" filter="url(#bin)" font-size="62.5" fill="#000">
<text transform="translate(180.6 1603.1) scale(0.95 1)" text-anchor="end">0.0</text>
<text transform="translate(180.6 1294.1) scale(0.95 1)" text-anchor="end">0.2</text>
<text transform="translate(180.6 985.1) scale(0.95 1)" text-anchor="end">0.4</text>
<text transform="translate(180.6 676.1) scale(0.95 1)" text-anchor="end">0.6</text>
<text transform="translate(180.6 367.1) scale(0.95 1)" text-anchor="end">0.8</text>
<text transform="translate(180.6 58.1) scale(0.95 1)" text-anchor="end">1.0</text>
<text transform="translate(232.8 1682.2) scale(0.95 1)" text-anchor="middle">400</text>
<text transform="translate(472.4 1682.2) scale(0.95 1)" text-anchor="middle">450</text>
<text transform="translate(712 1682.2) scale(0.95 1)" text-anchor="middle">500</text>
<text transform="translate(951.6 1682.2) scale(0.95 1)" text-anchor="middle">550</text>
<text transform="translate(1191.2 1682.2) scale(0.95 1)" text-anchor="middle">600</text>
<text transform="translate(1430.8 1682.2) scale(0.95 1)" text-anchor="middle">650</text>
<text transform="translate(1670.4 1682.2) scale(0.95 1)" text-anchor="middle">700</text>
<text transform="translate(1910 1682.2) scale(0.95 1)" text-anchor="middle">750</text>
<text transform="translate(2149.6 1682.2) scale(0.95 1)" text-anchor="middle">800</text>
</g>
<g font-family="'Liberation Serif','Times New Roman',serif" filter="url(#bin)" font-size="62.5" fill="#008000">
<text transform="translate(2274.8 1603.1) scale(0.95 1)" text-anchor="end">0.0</text>
<text transform="translate(2274.8 1294.1) scale(0.95 1)" text-anchor="end">0.2</text>
<text transform="translate(2274.8 985.1) scale(0.95 1)" text-anchor="end">0.4</text>
<text transform="translate(2274.8 676.1) scale(0.95 1)" text-anchor="end">0.6</text>
<text transform="translate(2274.8 367.1) scale(0.95 1)" text-anchor="end">0.8</text>
<text transform="translate(2274.8 58.1) scale(0.95 1)" text-anchor="end">1.0</text>
</g>
<text font-family="'Liberation Serif','Times New Roman',serif" filter="url(#bin)" font-size="88.5" transform="translate(74.5 1052.8) rotate(-90)">Absorbance (a.u.)</text>
<text font-family="'Liberation Serif','Times New Roman',serif" filter="url(#bin)" font-size="88.5" fill="#008000" transform="translate(2379.5 1187.5) rotate(-90)">Fluorscence Intensity (a.u.)</text>
<text font-family="'Liberation Serif','Times New Roman',serif" filter="url(#bin)" font-size="87" transform="translate(887.9 1810.7) scale(1.008 1)">Wavelength (nm)</text>
<g fill="none" shape-rendering="crispEdges">
<line x1="1234.1" y1="208.4" x2="1401" y2="208.4" stroke="#000" stroke-width="12.8" stroke-dasharray="34 24 2 25"/>
<line x1="1234.1" y1="299.9" x2="1401" y2="299.9" stroke="#000" stroke-width="12" stroke-dasharray="18.5 30.3"/>
<line x1="1233.8" y1="391.2" x2="1401" y2="391.2" stroke="#000" stroke-width="12" stroke-dasharray="1.6 19.9"/>
<line x1="1234.1" y1="482.4" x2="1401" y2="482.4" stroke="#008000" stroke-width="12.9"/>
<line x1="1233.8" y1="573.7" x2="1401" y2="573.7" stroke="#008000" stroke-width="12" stroke-dasharray="1.6 19.9"/>
</g>
<g font-family="'Liberation Serif','Times New Roman',serif" filter="url(#bin)" font-size="75.5" fill="#000">
<text transform="translate(1418.6 233) scale(0.967 1)">Abs of QDs mix 1</text>
<text transform="translate(1418.6 324.3) scale(0.967 1)">Abs of QDs mix 2</text>
<text transform="translate(1418.6 415.6) scale(0.967 1)">Abs of QDs mix 3</text>
<text transform="translate(1418.6 506.9) scale(0.967 1)">ASE of PFO</text>
<text transform="translate(1418.6 598.2) scale(0.967 1)">ASE of MEH-PPV</text>
</g>
</svg>
</body></html>
